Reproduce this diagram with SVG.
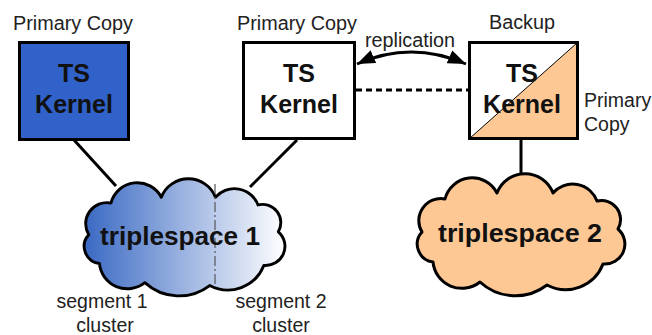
<svg xmlns="http://www.w3.org/2000/svg" width="652" height="335" viewBox="0 0 652 335">
<style>
.lbl{font-family:"Liberation Sans",Arial,sans-serif;font-size:19.5px;fill:#222;}
.big{font-family:"Liberation Sans",Arial,sans-serif;font-size:25px;font-weight:bold;fill:#111;text-anchor:middle;}
.box{stroke:#000;stroke-width:3;}
.cloud{stroke:#000;stroke-width:3;stroke-linejoin:round;}
.conn{stroke:#000;stroke-width:3;fill:none;}
</style>
<defs>
<linearGradient id="g1" x1="0" y1="0" x2="1" y2="0">
<stop offset="0" stop-color="#3A69C3"/>
<stop offset="1" stop-color="#FFFFFF"/>
</linearGradient>
<path id="cloudShape" d="M30,25 A28,28 0 0 1 82,19 A30,30 0 0 1 138,19 A26,26 0 0 1 182,27 A19,19 0 0 1 203,55 A20,20 0 0 1 188,90 A40,40 0 0 1 132,111 A52,52 0 0 1 65,108 A29,29 0 0 1 18,88 A18,18 0 0 1 7,58 A22,22 0 0 1 30,25 Z"/>
<marker id="ah" markerUnits="userSpaceOnUse" markerWidth="20" markerHeight="14" refX="18" refY="7" orient="auto-start-reverse">
<path d="M0,0 L18,7 L0,14 Z" fill="#000"/>
</marker>
</defs>

<g id="connectors">
<line class="conn" x1="74" y1="140" x2="116" y2="186"/>
<line class="conn" x1="297" y1="140" x2="250" y2="187"/>
<line class="conn" x1="521" y1="139" x2="521" y2="175"/>
<path class="conn" d="M357,64 Q411,40 466,64" marker-start="url(#ah)" marker-end="url(#ah)"/>
<line class="conn" x1="356" y1="90" x2="468" y2="90" stroke-dasharray="6 4"/>
<text class="lbl" x="365" y="47" textLength="90" lengthAdjust="spacingAndGlyphs">replication</text>
</g>

<g id="kernel1">
<rect class="box" x="19.5" y="42.5" width="109" height="97" fill="#3062C9"/>
<text class="big" x="74" y="82">TS</text>
<text class="big" x="74" y="113">Kernel</text>
<text class="lbl" x="13" y="30" textLength="120" lengthAdjust="spacingAndGlyphs">Primary Copy</text>
</g>

<g id="kernel2">
<rect class="box" x="243.5" y="42.5" width="111" height="96" fill="#FFFFFF"/>
<text class="big" x="299" y="82">TS</text>
<text class="big" x="299" y="113">Kernel</text>
<text class="lbl" x="237" y="30" textLength="120" lengthAdjust="spacingAndGlyphs">Primary Copy</text>
</g>

<g id="kernel3">
<rect x="469.5" y="42.5" width="108" height="96" fill="#FFFFFF"/>
<polygon points="469.5,138.5 577.5,42.5 577.5,138.5" fill="#FDC894"/>
<line x1="469.5" y1="138.5" x2="577.5" y2="42.5" stroke="#000" stroke-width="1"/>
<rect class="box" x="469.5" y="42.5" width="108" height="96" fill="none"/>
<text class="big" x="522" y="82">TS</text>
<text class="big" x="522" y="113">Kernel</text>
<text class="lbl" x="489" y="29" textLength="66" lengthAdjust="spacingAndGlyphs">Backup</text>
<text class="lbl" x="584" y="107">Primary</text>
<text class="lbl" x="584" y="131">Copy</text>
</g>

<g id="triplespace1">
<use href="#cloudShape" class="cloud" fill="url(#g1)" transform="translate(82,179) scale(0.967,0.96)"/>
<line x1="215" y1="184" x2="215" y2="285" stroke="#555" stroke-width="1.2" stroke-dasharray="10 3 2 3"/>
<text class="big" x="180" y="245" textLength="160" lengthAdjust="spacingAndGlyphs">triplespace 1</text>
<text class="lbl" x="102" y="308" text-anchor="middle">segment 1</text>
<text class="lbl" x="105" y="332" text-anchor="middle">cluster</text>
<text class="lbl" x="281" y="308" text-anchor="middle">segment 2</text>
<text class="lbl" x="281" y="332" text-anchor="middle">cluster</text>
</g>

<g id="triplespace2">
<use href="#cloudShape" class="cloud" fill="#FDC894" transform="translate(415,174)"/>
<text class="big" x="520" y="242" textLength="164" lengthAdjust="spacingAndGlyphs">triplespace 2</text>
</g>
</svg>
